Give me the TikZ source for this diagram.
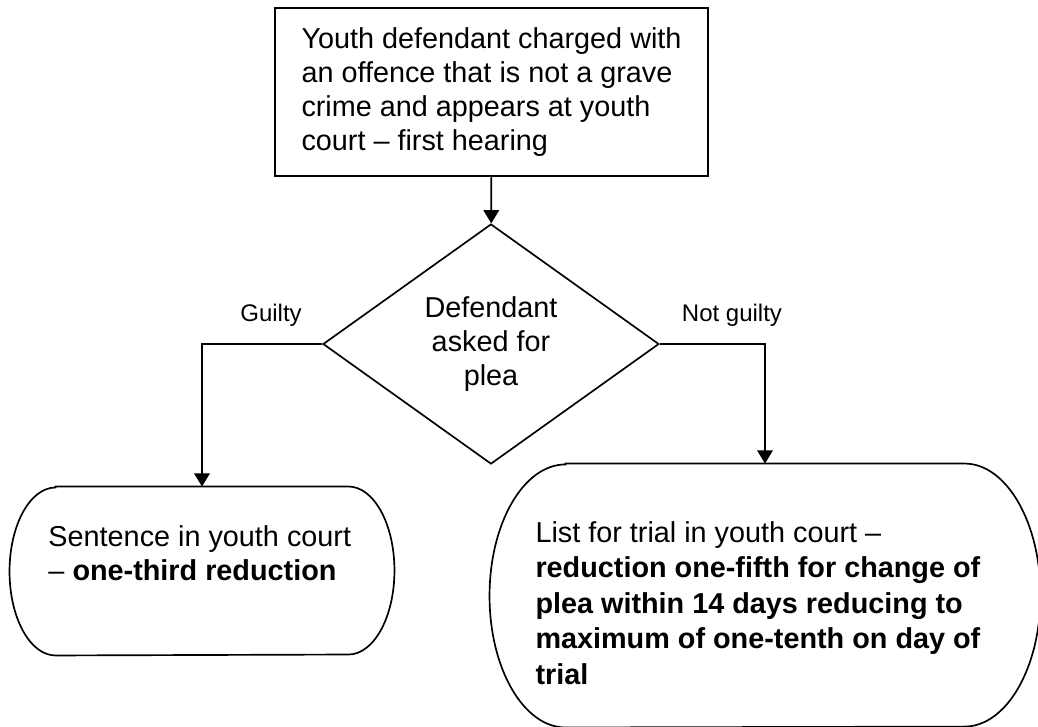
\documentclass[tikz,border=0pt]{standalone}
\usepackage{fontspec}
\setmainfont{Liberation Sans}
\usetikzlibrary{shapes.geometric,arrows.meta}

\newcommand{\termoutline}[3]{%
  \draw[line width=0.7pt] ([xshift=#2]#1.north west) -- ([xshift=-#2]#1.north east)
    arc[start angle=90, end angle=-90, x radius=#2, y radius=#3]
    -- ([xshift=#2]#1.south west)
    arc[start angle=270, end angle=90, x radius=#2, y radius=#3] -- cycle;}

\begin{document}
\begin{tikzpicture}[
  flow/.style={line width=0.7pt, -{Triangle[width=6.5pt,length=5.5pt]}},
  boxtext/.style={inner sep=0pt, align=left, font=\fontsize{12}{14.2}\selectfont},
  lbl/.style={font=\fontsize{10}{12}\selectfont}]
\useasboundingbox (0,0) rectangle (15.201,10.632);

\node[draw, line width=0.8pt, minimum width=6.341cm, minimum height=2.460cm, align=left, font=\fontsize{12}{14.2}\selectfont] (charge) at (7.198,9.284) {Youth defendant charged with\\an offence that is not a grave\\crime and appears at youth\\court – first hearing};

\node[draw, diamond, line width=0.7pt, minimum width=4.920cm, minimum height=3.515cm, inner sep=0pt, align=center, font=\fontsize{12}{14.2}\selectfont] (plea) at (7.190,5.594) {Defendant\\asked for\\plea};

\node[minimum width=5.623cm, minimum height=2.460cm, inner sep=0pt] (sentence) at (2.958,2.270) {};
\termoutline{sentence}{0.674cm}{1.230cm}
\node[boxtext, anchor=north west] (sentencetxt) at (0.703,2.943) {Sentence in youth court\\– \textbf{one-third reduction}};

\node[minimum width=8.054cm, minimum height=3.851cm, inner sep=0pt] (trial) at (11.203,1.911) {};
\termoutline{trial}{1.113cm}{1.926cm}
\node[boxtext, anchor=north west, font=\fontsize{12}{14.8}\selectfont] (trialtxt) at (7.835,3.002) {List for trial in youth court –\\\textbf{reduction one-fifth for change of}\\\textbf{plea within 14 days reducing to}\\\textbf{maximum of one-tenth on day of}\\\textbf{trial}};

\draw[flow] (charge) -- (plea);
\draw[flow] (plea.west) -| (sentence.north);
\draw[flow] (plea.east) -| (trial.north);
\node[lbl] (guilty) at (3.969,6.019) {Guilty};
\node[lbl] (notguilty) at (10.719,6.019) {Not guilty};
\end{tikzpicture}
\end{document}
